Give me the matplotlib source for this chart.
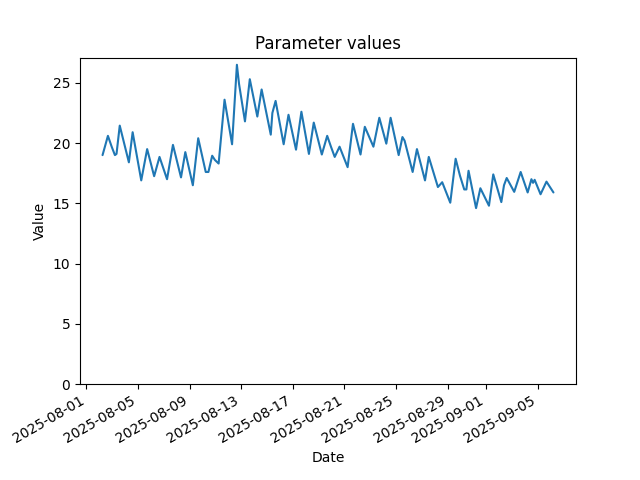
import matplotlib
matplotlib.use("Agg")
import matplotlib.pyplot as plt
import pandas as pd

times = [
    "2025-08-02 06:00", "2025-08-02 16:00", "2025-08-02 23:00", "2025-08-03 05:00",
    "2025-08-03 08:00", "2025-08-03 14:00", "2025-08-04 07:00", "2025-08-04 14:00",
    "2025-08-05 06:00", "2025-08-05 17:00", "2025-08-06 06:00", "2025-08-06 16:00",
    "2025-08-07 06:00", "2025-08-07 17:00", "2025-08-08 08:00", "2025-08-08 16:00",
    "2025-08-09 06:00", "2025-08-09 16:00", "2025-08-10 06:00", "2025-08-10 11:00",
    "2025-08-10 18:00", "2025-08-10 23:00", "2025-08-11 06:00", "2025-08-11 17:00",
    "2025-08-12 07:00", "2025-08-12 16:00", "2025-08-12 20:00", "2025-08-13 07:00",
    "2025-08-13 16:00", "2025-08-14 06:00", "2025-08-14 14:00", "2025-08-15 07:00",
    "2025-08-15 10:00", "2025-08-15 16:00", "2025-08-16 07:00", "2025-08-16 16:00",
    "2025-08-17 06:00", "2025-08-17 16:00", "2025-08-18 06:00", "2025-08-18 15:00",
    "2025-08-19 06:00", "2025-08-19 16:00", "2025-08-19 23:00", "2025-08-20 06:00",
    "2025-08-20 15:00", "2025-08-21 06:00", "2025-08-21 16:00", "2025-08-22 06:00",
    "2025-08-22 14:00", "2025-08-23 06:00", "2025-08-23 17:00", "2025-08-24 06:00",
    "2025-08-24 14:00", "2025-08-25 05:00", "2025-08-25 12:00", "2025-08-25 16:00",
    "2025-08-26 07:00", "2025-08-26 15:00", "2025-08-27 06:00", "2025-08-27 13:00",
    "2025-08-28 06:00", "2025-08-28 14:00", "2025-08-29 05:00", "2025-08-29 15:00",
    "2025-08-29 23:00", "2025-08-30 07:00", "2025-08-30 11:00", "2025-08-30 15:00",
    "2025-08-31 05:00", "2025-08-31 13:00", "2025-09-01 05:00", "2025-09-01 13:00",
    "2025-09-02 04:00", "2025-09-02 09:00", "2025-09-02 14:00", "2025-09-03 04:00",
    "2025-09-03 16:00", "2025-09-04 05:00", "2025-09-04 12:00", "2025-09-04 15:00",
    "2025-09-04 18:00", "2025-09-05 05:00", "2025-09-05 16:00", "2025-09-06 05:00",
]

values = [
    19.0, 20.6, 19.7, 19.0,
    19.1, 21.45, 18.4, 20.9,
    16.9, 19.5, 17.25, 18.85,
    17.0, 19.85, 17.15, 19.25,
    16.5, 20.4, 17.6, 17.6,
    18.95, 18.6, 18.3, 23.6,
    19.9, 26.5, 24.9, 21.8,
    25.3, 22.2, 24.45, 20.7,
    22.5, 23.5, 19.9, 22.35,
    19.45, 22.6, 19.1, 21.7,
    19.05, 20.6, 19.7, 18.85,
    19.7, 18.0, 21.6, 19.05,
    21.35, 19.7, 22.1, 19.95,
    22.1, 19.0, 20.5, 20.2,
    17.6, 19.5, 16.9, 18.85,
    16.35, 16.75, 15.05, 18.7,
    17.3, 16.15, 16.15, 17.7,
    14.6, 16.25, 14.8, 17.4,
    15.1, 16.5, 17.1, 15.95,
    17.6, 15.9, 17.0, 16.7,
    16.95, 15.75, 16.8, 15.9,
]

dates = pd.to_datetime(times)

fig, ax = plt.subplots(figsize=(6.4, 4.8), dpi=100)
ax.plot(dates, values, color="#1f77b4", linewidth=1.5,
        solid_joinstyle="round", solid_capstyle="round")
ax.set_ylim(bottom=0)
ax.set_title("Parameter values")
ax.set_xlabel("Date")
ax.set_ylabel("Value")
fig.autofmt_xdate()
fig.savefig("out.png", dpi=100)
